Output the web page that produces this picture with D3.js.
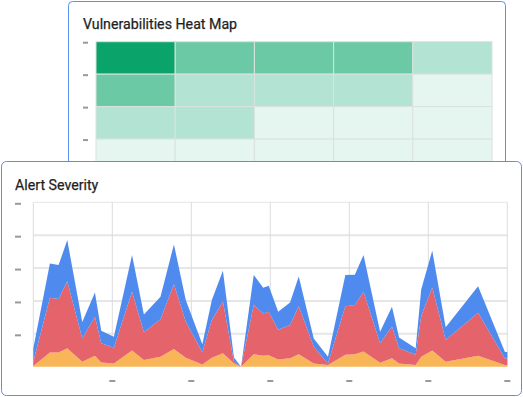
<!DOCTYPE html>
<html><head><meta charset="utf-8">
<script src="https://cdn.jsdelivr.net/npm/d3@7/dist/d3.min.js"></script>
<style>body{margin:0;background:#fff;}svg{display:block;font-family:Roboto,"Noto Sans",sans-serif;}</style>
</head><body>
<svg id="c" width="523" height="397"></svg>
<script>
// Heat map data
const heatCols = ["c1","c2","c3","c4","c5"];
const heatRows = ["r1","r2","r3","r4","r5"];
const heatValues = [
  [4,3,3,3,2],
  [3,2,2,2,1],
  [2,2,1,1,1],
  [1,1,1,1,1],
  [1,1,1,1,1]
];
// Alert severity data (stacked)
const times = [0,2.1,3.2,4.3,6.2,7.8,8.6,10.2,12.5,14.0,16.1,17.8,19.3,21.4,22.6,24.0,25.4,26.3,27.9,29.1,29.8,31.0,32.5,33.6,35.5,37.3,39.5,40.7,41.8,43.9,45.4,46.3,48.4,49.1,50.5,52.2,56.3,59.7,60];
const low    = [0.2,4.3,4.3,5.6,1.5,3.3,1.3,1.0,4.9,2.0,3.0,5.4,2.7,0.7,2.7,4.1,1.0,0,3.8,3.3,3.5,2.2,2.6,3.8,1.0,0.5,3.6,3.8,4.6,1.2,2.6,1.0,0.5,3.0,4.9,1.5,3.3,0.5,0.5];
const medium = [1.3,16.7,16.3,20.4,7.1,11.9,5.8,4.8,17.9,8.5,11.4,19.7,11.0,3.7,11.5,15.7,0.5,0,15.0,12.9,13.2,9.0,10.1,14.6,5.1,0.5,14.8,15.0,18.2,5.9,9.6,4.6,3.1,12.4,19.2,6.6,13.1,2.0,2.0];
const high   = [4.1,10.4,10.3,12.5,5.0,7.4,3.8,3.3,11.2,5.4,6.9,12.1,6.6,2.4,6.1,9.4,1.3,0,9.1,7.8,7.9,5.5,6.8,9.0,2.5,2.0,9.5,9.2,11.2,3.5,6.0,3.3,2.0,8.1,11.2,3.9,8.1,2.0,2.0];
const yTicks = [10,20,30,40,50];
const xTicks = [10,20,30,40,50,60];

const svg = d3.select("#c");
const border = "#5a8ff0";

// ---- Top card: heat map
svg.append("rect").attr("x",68.5).attr("y",1.5).attr("width",437).attr("height",230)
  .attr("rx",4).attr("fill","#fff").attr("stroke",border).attr("stroke-width",1);
svg.append("text").attr("x",83).attr("y",28.5).attr("font-size",14.2).attr("font-weight",400)
  .attr("fill","#1f1f1f").attr("stroke","#1f1f1f").attr("stroke-width",0.25).text("Vulnerabilities Heat Map");

const hx = d3.scaleBand().domain(heatCols).range([96,492]);
const hy = d3.scaleBand().domain(heatRows).range([41.7,204]);
const hColor = d3.scaleOrdinal().domain([1,2,3,4]).range(["#e5f5ef","#b3e3d2","#6cc9a6","#0aa36a"]);
const cells = [];
heatValues.forEach((row,i)=>row.forEach((v,j)=>cells.push({r:heatRows[i],c:heatCols[j],v})));
svg.append("g").selectAll("rect").data(cells).join("rect")
  .attr("x",d=>hx(d.c)).attr("y",d=>hy(d.r))
  .attr("width",hx.bandwidth()).attr("height",hy.bandwidth())
  .attr("fill",d=>hColor(d.v)).attr("stroke","#d9e3df").attr("stroke-width",1);
svg.append("g").selectAll("rect").data(heatRows).join("rect")
  .attr("x",83).attr("y",d=>hy(d)).attr("width",5).attr("height",2).attr("fill","#999");

// ---- Bottom card: alert severity
svg.append("rect").attr("x",1.5).attr("y",161.5).attr("width",520).attr("height",234)
  .attr("rx",5).attr("fill","#fff").attr("stroke",border).attr("stroke-width",1);
svg.append("text").attr("x",15).attr("y",189.5).attr("font-size",14.2).attr("font-weight",400)
  .attr("fill","#1f1f1f").attr("stroke","#1f1f1f").attr("stroke-width",0.25).text("Alert Severity");

const x = d3.scaleLinear().domain([0,60]).range([33.3,507.3]);
const y = d3.scaleLinear().domain([0,50]).range([366.7,202.3]);

const grid = svg.append("g");
grid.selectAll("line.h").data(yTicks).join("line").attr("class","h")
  .attr("x1",x(0)).attr("x2",x(60)).attr("y1",d=>y(d)).attr("y2",d=>y(d))
  .attr("stroke","#e6e6e6").attr("stroke-width",d=>d===50?1:2);
grid.selectAll("line.v").data([0].concat(xTicks)).join("line").attr("class","v")
  .attr("y1",y(0)).attr("y2",y(50)).attr("x1",d=>x(d)).attr("x2",d=>x(d))
  .attr("stroke","#dcdcdc").attr("stroke-width",1);

const rows = times.map((t,i)=>({t,low:low[i],medium:medium[i],high:high[i]}));
const stack = d3.stack().keys(["low","medium","high"]);
const series = stack(rows);
const colors = {low:"#f8b659",medium:"#e5636a",high:"#4f8bef"};
const area = d3.area().x(d=>x(d.data.t)).y0(d=>y(d[0])).y1(d=>y(d[1]));
svg.append("g").selectAll("path").data(series).join("path")
  .attr("d",area).attr("fill",d=>colors[d.key]);

svg.append("g").selectAll("rect").data(yTicks).join("rect")
  .attr("x",15).attr("y",d=>y(d)+0.5).attr("width",6).attr("height",2).attr("fill","#999");
svg.append("g").selectAll("rect").data(xTicks).join("rect")
  .attr("x",d=>x(d)-3).attr("y",380).attr("width",6).attr("height",2).attr("fill","#999");
</script>
</body></html>
